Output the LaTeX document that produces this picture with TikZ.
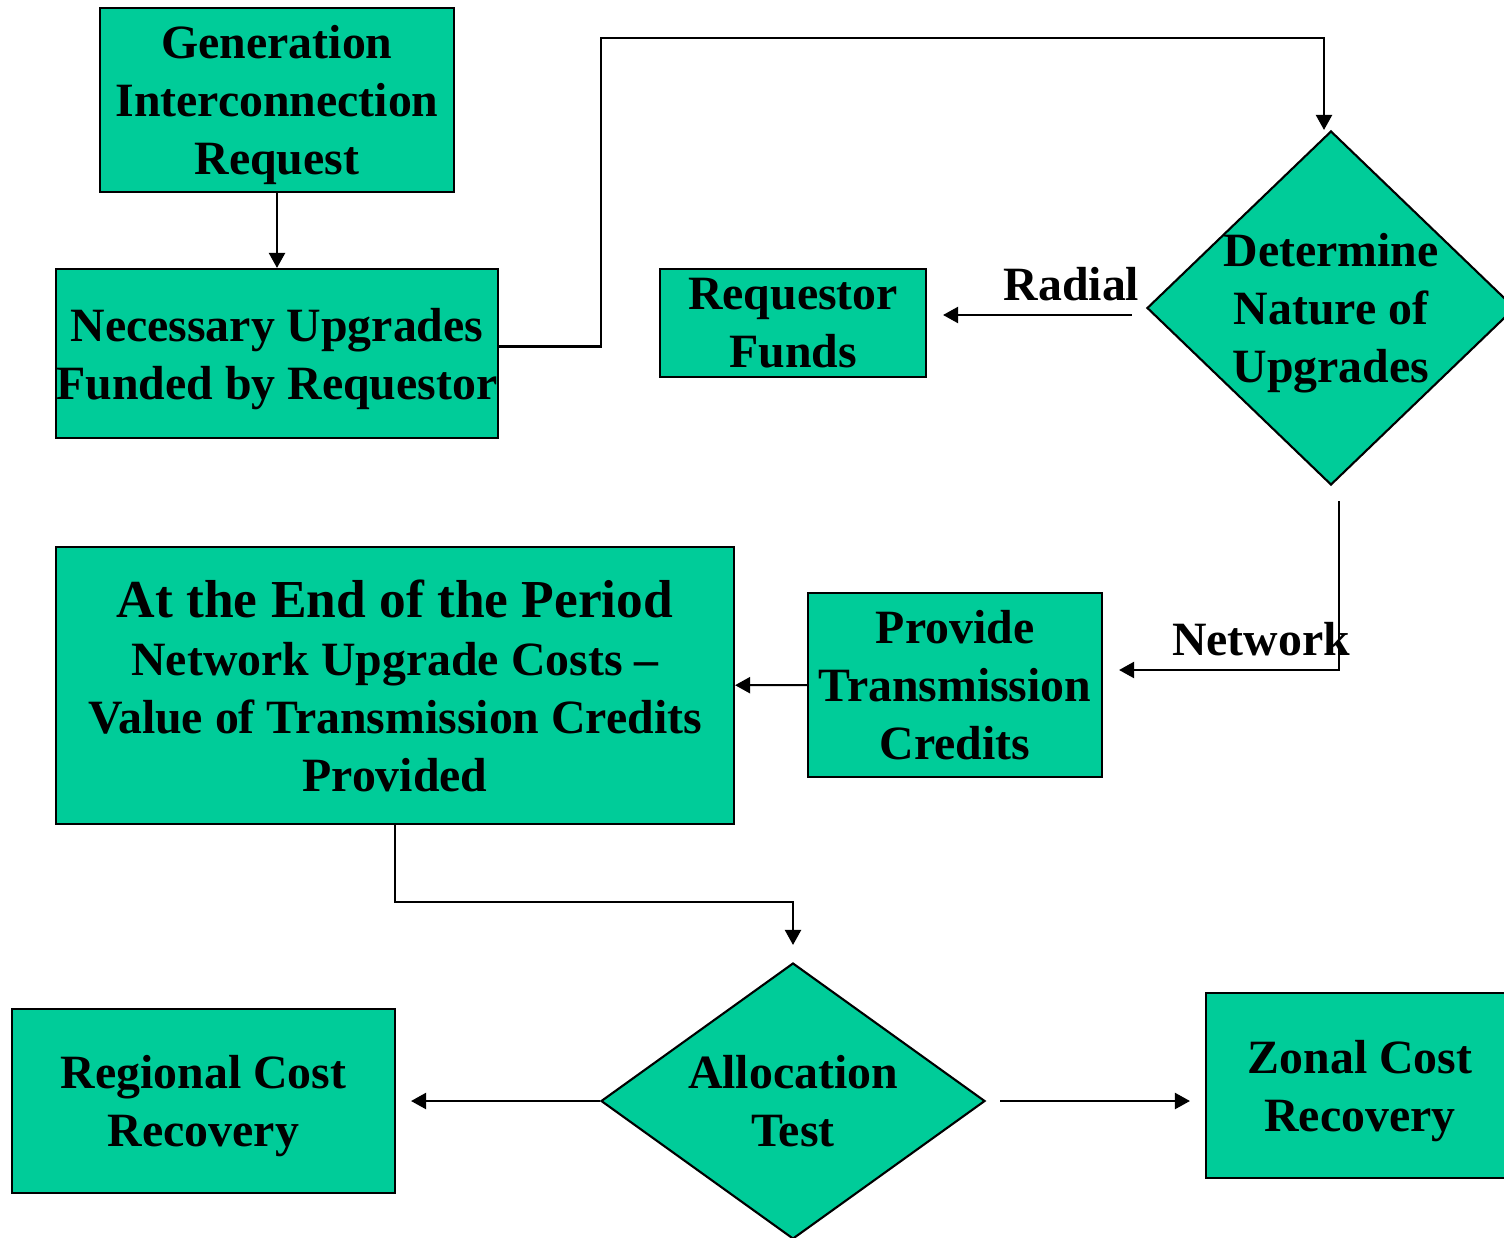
\documentclass[tikz,border=0pt]{standalone}
\usepackage{fontspec}
\setmainfont{Liberation Serif}
\usetikzlibrary{shapes.geometric, arrows.meta}
\definecolor{boxgreen}{RGB}{0,204,153}
\tikzset{
step box/.style={draw, line width=0.6pt, fill=boxgreen, align=center, inner sep=0pt,
  font=\fontsize{13.6}{16.5}\selectfont\bfseries, text depth=-1.1pt},
choice/.style={step box, shape=diamond, inner sep=-0.6cm},
link/.style={line width=0.6pt, -{Triangle[length=4.3pt, width=4.6pt]}},
lbl/.style={font=\fontsize{13.6}{16.5}\selectfont\bfseries, inner sep=1pt}
}
\begin{document}
\begin{tikzpicture}
  \useasboundingbox (0,0) rectangle (15.04,12.37);
  \node[step box, minimum width=3.54cm, minimum height=1.84cm] (gen) at (2.77,11.37) {Generation\\Interconnection\\Request};
  \node[step box, minimum width=4.42cm, minimum height=1.69cm] (upgrades) at (2.77,8.835) {Necessary Upgrades\\Funded by Requestor};
  \node[step box, minimum width=2.66cm, minimum height=1.08cm] (funds) at (7.93,9.14) {Requestor\\Funds};
  \node[choice, minimum width=3.68cm, minimum height=3.54cm] (nature) at (13.31,9.29) {Determine\\Nature of\\Upgrades};
  \node[step box, minimum width=6.78cm, minimum height=2.77cm] (endperiod) at (3.95,5.515) {{\fontsize{15.2}{16.5}\selectfont At the End of the Period}\\Network Upgrade Costs --\\Value of Transmission Credits\\Provided};
  \node[step box, minimum width=2.94cm, minimum height=1.84cm] (credits) at (9.55,5.52) {Provide\\Transmission\\Credits};
  \node[choice, minimum width=3.84cm, minimum height=2.76cm] (alloc) at (7.93,1.36) {Allocation\\Test};
  \node[step box, minimum width=3.83cm, minimum height=1.84cm] (regional) at (2.035,1.36) {Regional Cost\\Recovery};
  \node[step box, minimum width=3.08cm, minimum height=1.85cm] (zonal) at (13.60,1.515) {Zonal Cost\\Recovery};

  \draw[link] (gen) -- (upgrades);
  \draw[link] ([yshift=0.07cm]upgrades.east) -| (6.01,11.99) -| ([xshift=-0.07cm]nature.north);
  \draw[link, shorten <=0.14cm, shorten >=0.16cm] ([yshift=-0.07cm]nature.west) -- ([yshift=-0.07cm]nature.west -| funds.east)
    node[lbl, pos=0.34, above=2.8pt] {Radial};
  \draw[link, shorten >=0.16cm] ([shift={(0.08,-0.15)}]nature.south) |- ([yshift=0.15cm]credits.east)
    node[lbl, pos=0.665, above=2.8pt] {Network};
  \draw[link] (credits) -- (endperiod);
  \draw[link] (endperiod.south) -- ++(0,-0.77) -| ([yshift=0.17cm]alloc.north);
  \draw[link, shorten >=0.15cm] (alloc.west) -- (regional.east);
  \draw[link, shorten <=0.14cm, shorten >=0.15cm] (alloc.east) -- (alloc.east -| zonal.west);
\end{tikzpicture}
\end{document}
